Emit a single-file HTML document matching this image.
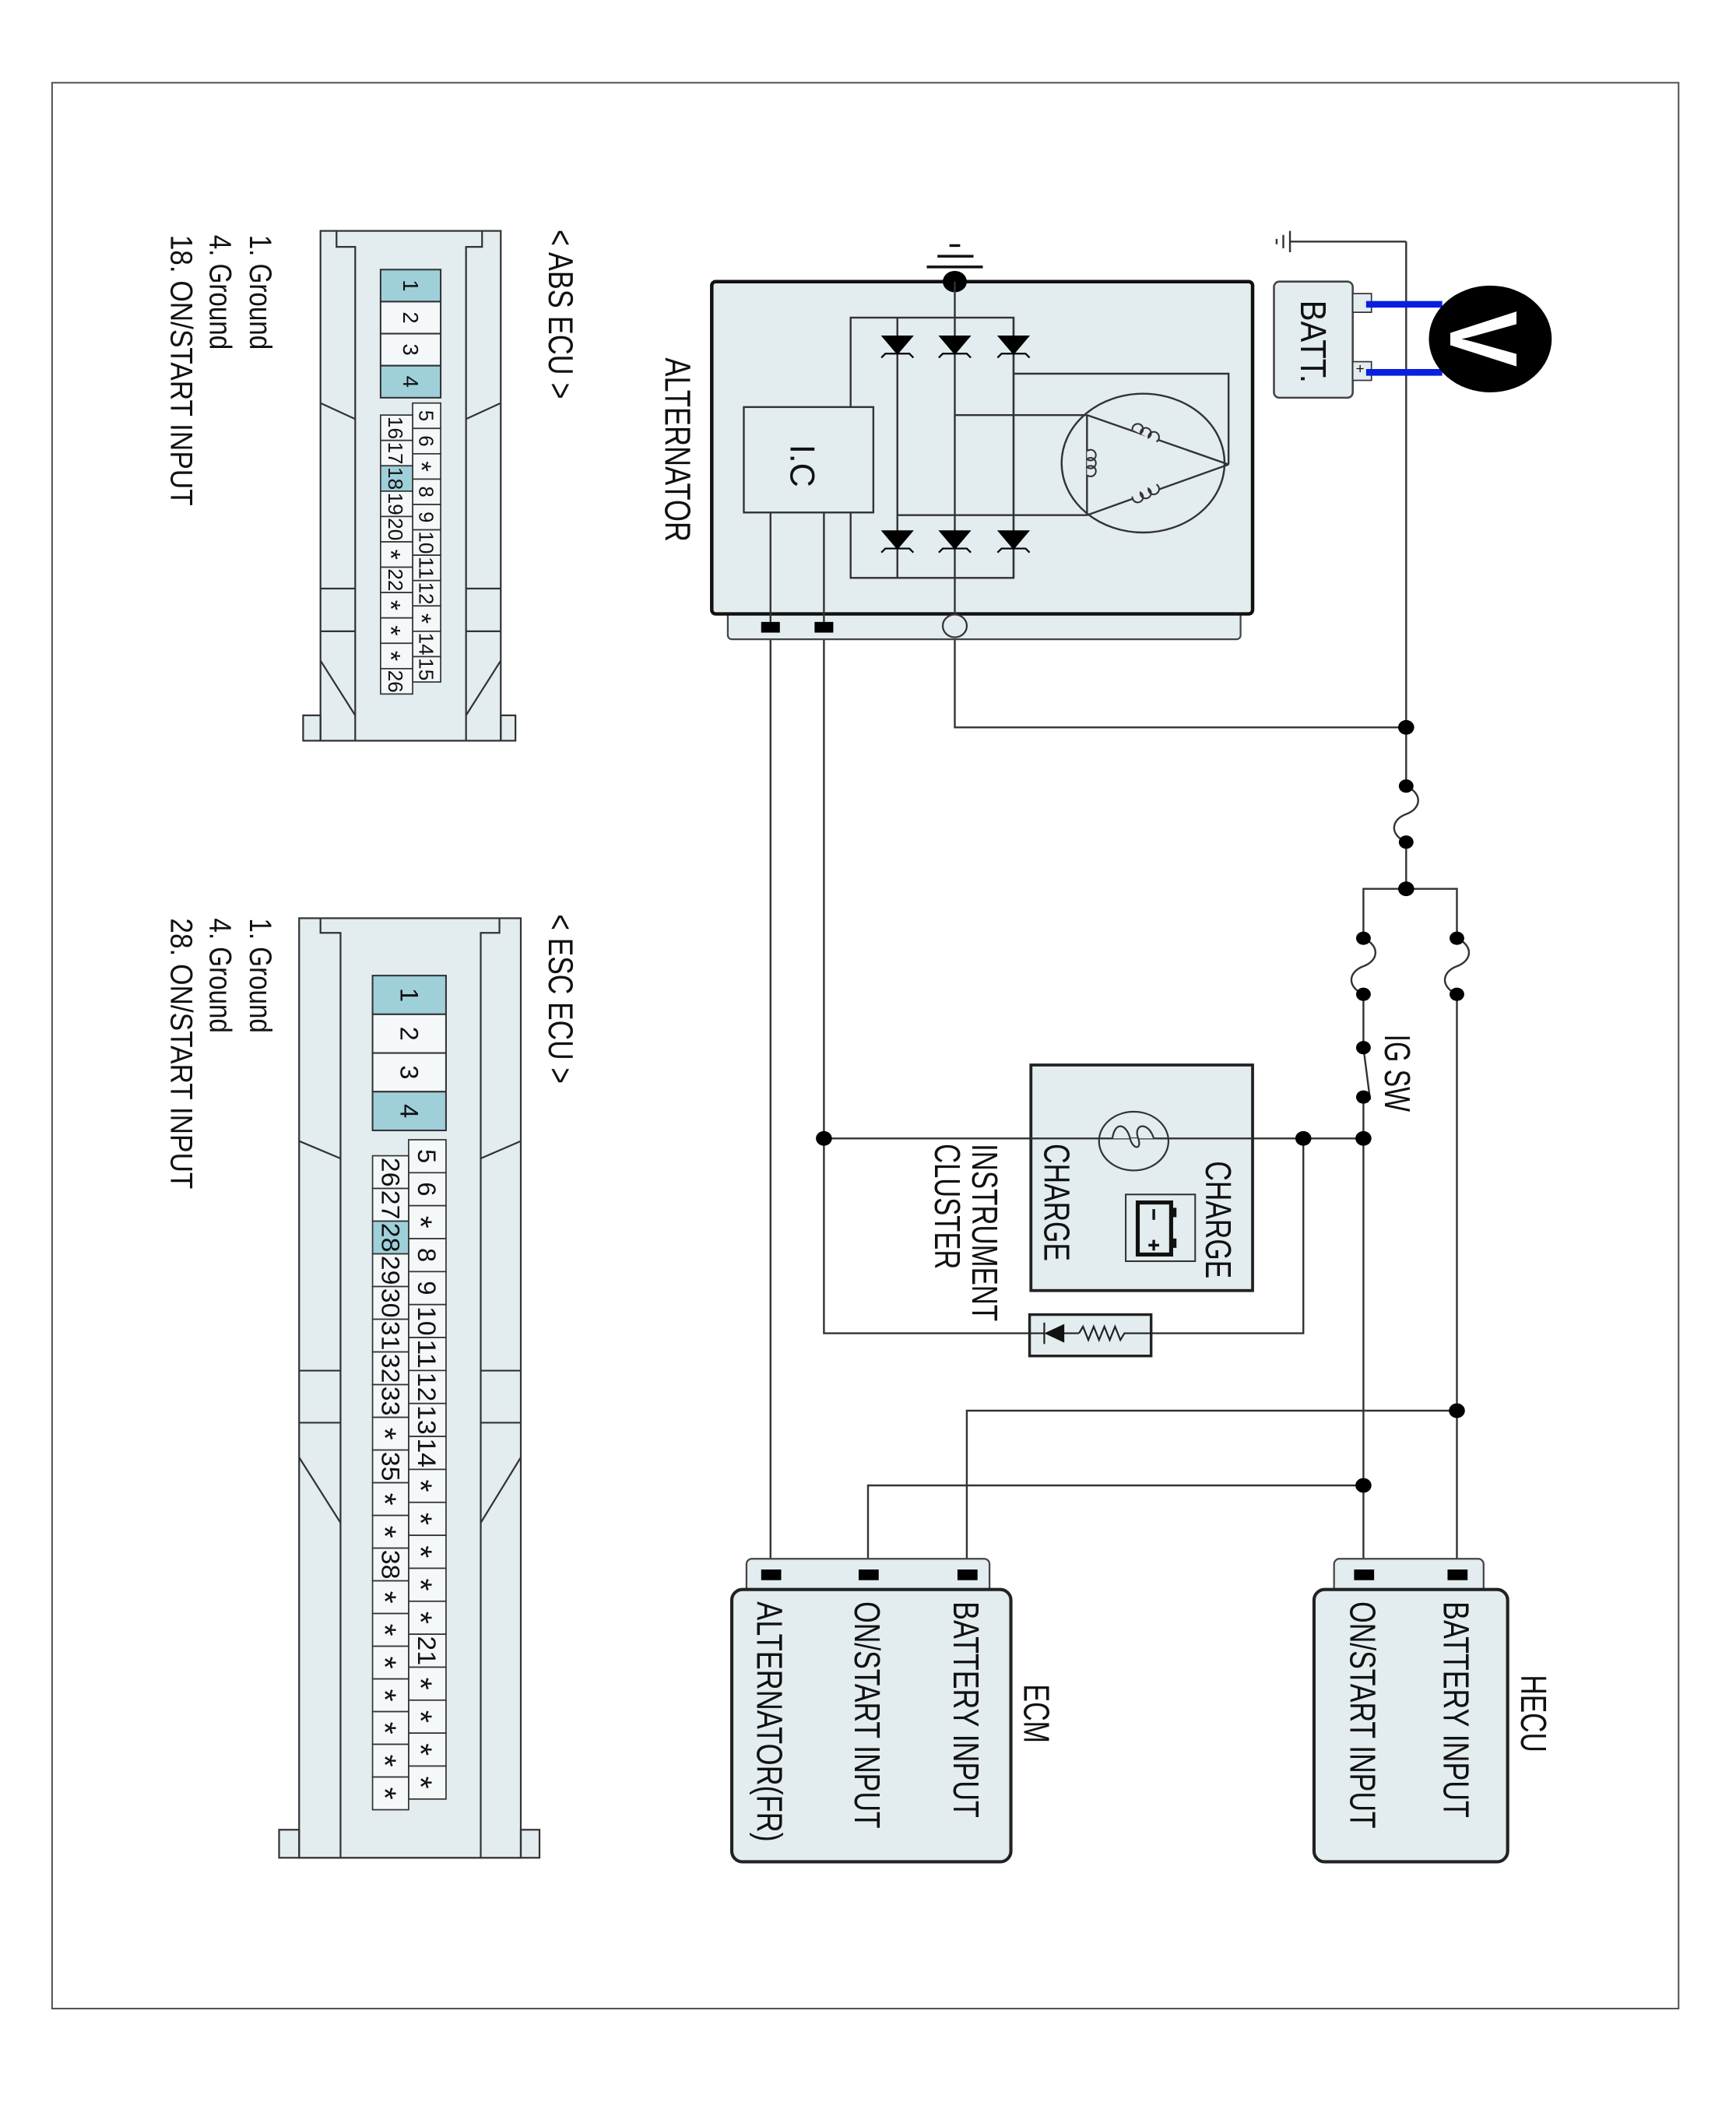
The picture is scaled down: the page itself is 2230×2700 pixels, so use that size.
<!DOCTYPE html>
<html><head><meta charset="utf-8">
<style>
html,body{margin:0;padding:0;background:#fff;}
svg{display:block;}
text{font-family:"Liberation Sans",sans-serif;fill:#111;}
</style></head>
<body>
<svg width="2230" height="2700" viewBox="0 0 1300 1575" preserveAspectRatio="none" xmlns="http://www.w3.org/2000/svg">
<rect x="0" y="0" width="1300" height="1575" fill="#fff"/>
<rect x="39" y="62" width="1218" height="1443" fill="none" stroke="#555" stroke-width="1.2"/>

<g stroke="#333" stroke-width="1.4" fill="none">
<!-- ground near battery -->
<line x1="966" y1="181" x2="1053" y2="181"/>
<line x1="966" y1="173" x2="966" y2="189"/>
<line x1="961" y1="176" x2="961" y2="186"/>
<line x1="956" y1="179" x2="956" y2="183"/>
<line x1="1053" y1="181" x2="1053" y2="589"/>
<!-- alt B wire -->
<polyline points="715,477 715,545 1053,545"/>
<!-- main fuse -->
<path d="M1053,589 C1066,595 1064,606 1053,610 C1042,614 1040,625 1053,631"/>
<line x1="1053" y1="631" x2="1053" y2="666"/>
<polyline points="1021,703 1021,666 1091,666 1091,703"/>
<path d="M1021,703 C1034,709 1032,720 1021,724 C1010,728 1008,739 1021,745"/>
<path d="M1091,703 C1104,709 1102,720 1091,724 C1080,728 1078,739 1091,745"/>
<line x1="1021" y1="745" x2="1021" y2="785"/>
<line x1="1021" y1="785" x2="1026" y2="824"/>
<line x1="1021" y1="822" x2="1021" y2="1175"/>
<line x1="1091" y1="745" x2="1091" y2="1175"/>
<!-- charge lamp line -->
<line x1="617" y1="853" x2="1021" y2="853"/>
<polyline points="976,853 976,999 862,999"/>
<polyline points="771,999 617,999 617,470"/>
<line x1="577" y1="470" x2="577" y2="1175"/>
<polyline points="1091,1057 724,1057 724,1175"/>
<polyline points="1021,1113 650,1113 650,1175"/>
</g>

<!-- junction dots -->
<g fill="#000">
<ellipse cx="1053" cy="545" rx="6" ry="5.5"/>
<ellipse cx="1053" cy="589" rx="5.5" ry="5"/>
<ellipse cx="1053" cy="631" rx="5.5" ry="5"/>
<ellipse cx="1053" cy="666" rx="6" ry="5.5"/>
<ellipse cx="1021" cy="703" rx="5.5" ry="5"/>
<ellipse cx="1021" cy="745" rx="5.5" ry="5"/>
<ellipse cx="1091" cy="703" rx="5.5" ry="5"/>
<ellipse cx="1091" cy="745" rx="5.5" ry="5"/>
<ellipse cx="1021" cy="785" rx="5.5" ry="5"/>
<ellipse cx="1021" cy="822" rx="5.5" ry="5"/>
<ellipse cx="1021" cy="853" rx="6" ry="5.5"/>
<ellipse cx="976" cy="853" rx="6" ry="5.5"/>
<ellipse cx="617" cy="853" rx="6" ry="5.5"/>
<ellipse cx="1091" cy="1057" rx="6" ry="5.5"/>
<ellipse cx="1021" cy="1113" rx="6" ry="5.5"/>
</g>

<!-- battery & voltmeter -->
<rect x="954" y="211" width="59" height="87" rx="4" fill="#e3ecef" stroke="#444" stroke-width="1.5"/>
<text transform="translate(974,225) rotate(90)" font-size="27" textLength="62" lengthAdjust="spacingAndGlyphs">BATT.</text>
<rect x="1013" y="220" width="14" height="14" fill="#e3ecef" stroke="#333" stroke-width="1"/>
<rect x="1013" y="271" width="14" height="14" fill="#e3ecef" stroke="#333" stroke-width="1"/>
<text transform="translate(1015,273) rotate(90)" font-size="11">+</text>
<line x1="1023" y1="228" x2="1080" y2="228" stroke="#0a1ee0" stroke-width="5"/>
<line x1="1023" y1="279" x2="1080" y2="279" stroke="#0a1ee0" stroke-width="5"/>
<ellipse cx="1116" cy="254" rx="46" ry="40" fill="#000"/>
<text transform="translate(1086,233) rotate(90)" font-size="72" font-weight="bold" style="fill:#fff" textLength="42" lengthAdjust="spacingAndGlyphs">V</text>

<!-- alternator -->
<rect x="545" y="458" width="384" height="21" rx="3" fill="#e3ecef" stroke="#444" stroke-width="1.3"/>
<rect x="533" y="211" width="405" height="249" rx="3" fill="#e3ecef" stroke="#111" stroke-width="2.6"/>
<g stroke="#111" stroke-width="2">
<line x1="711" y1="184" x2="719" y2="184"/>
<line x1="702" y1="192" x2="729" y2="192"/>
<line x1="694" y1="200" x2="736" y2="200"/>
</g>
<ellipse cx="715" cy="211" rx="9" ry="8" fill="#000"/>
<g stroke="#333" stroke-width="1.4" fill="none">
<line x1="715" y1="211" x2="715" y2="460"/>
<rect x="637" y="238" width="122" height="195"/>
<line x1="672" y1="238" x2="672" y2="433"/>
<line x1="759" y1="238" x2="759" y2="433"/>
<line x1="715" y1="311" x2="814" y2="311"/>
<line x1="672" y1="386" x2="814" y2="386"/>
<polyline points="759,280 920,280 920,348"/>
<ellipse cx="856" cy="347" rx="61" ry="52"/>
<line x1="814" y1="311" x2="814" y2="386"/>
<line x1="814" y1="311" x2="920" y2="348"/>
<line x1="814" y1="386" x2="920" y2="348"/>
<line x1="577" y1="384" x2="577" y2="470"/>
<line x1="617" y1="384" x2="617" y2="470"/>
</g>
<!-- coils -->
<g fill="#e3ecef" stroke="#333" stroke-width="1.2">
<path d="M848,322 a4,4 0 1,1 6,3 a4,4 0 1,1 6,3 a4,4 0 1,1 6,3"/>
<path d="M848,372 a4,4 0 1,0 6,-3 a4,4 0 1,0 6,-3 a4,4 0 1,0 6,-3"/>
<path d="M814,338 a4,4 0 1,1 0,6 a4,4 0 1,1 0,6 a4,4 0 1,1 0,6"/>
</g>
<!-- diodes -->
<g fill="#000" stroke="#000" stroke-width="1.2">
<polygon points="661,252 683,252 672,265"/><polygon points="704,252 726,252 715,265"/><polygon points="748,252 770,252 759,265"/>
<polygon points="661,398 683,398 672,411"/><polygon points="704,398 726,398 715,411"/><polygon points="748,398 770,398 759,411"/>
</g>
<g stroke="#000" stroke-width="1.3" fill="none">
<path d="M660,268 l3,-3 h18 l3,3"/><path d="M703,268 l3,-3 h18 l3,3"/><path d="M747,268 l3,-3 h18 l3,3"/>
<path d="M660,414 l3,-3 h18 l3,3"/><path d="M703,414 l3,-3 h18 l3,3"/><path d="M747,414 l3,-3 h18 l3,3"/>
</g>
<rect x="557" y="305" width="97" height="79" fill="#e3ecef" stroke="#333" stroke-width="1.4"/>
<text transform="translate(592,333) rotate(90)" font-size="26" textLength="32" lengthAdjust="spacingAndGlyphs">I.C</text>
<rect x="570" y="466" width="14" height="8" fill="#000"/>
<rect x="610" y="466" width="14" height="8" fill="#000"/>
<ellipse cx="715" cy="469" rx="9" ry="8.5" fill="#e3ecef" stroke="#333" stroke-width="1.3"/>
<text transform="translate(498,268) rotate(90)" font-size="27" textLength="138" lengthAdjust="spacingAndGlyphs">ALTERNATOR</text>

<!-- instrument cluster -->
<rect x="772" y="798" width="166" height="169" fill="#e3ecef" stroke="#222" stroke-width="2.2"/>
<line x1="772" y1="853" x2="938" y2="853" stroke="#333" stroke-width="1.4"/>
<ellipse cx="849" cy="855" rx="26" ry="22" fill="none" stroke="#333" stroke-width="1.3"/>
<path d="M833,853 C835,840 843,842 846,852 C848,862 856,862 852,852 C849,842 860,840 864,853" fill="#e3ecef" stroke="#333" stroke-width="1.3"/>
<rect x="843" y="895" width="52" height="50" fill="#e3ecef" stroke="#333" stroke-width="1.2"/>
<rect x="852" y="901" width="25" height="39" fill="none" stroke="#111" stroke-width="3"/>
<rect x="877" y="905" width="4" height="7" fill="#111"/><rect x="877" y="928" width="4" height="7" fill="#111"/>
<line x1="864" y1="906" x2="864" y2="914" stroke="#111" stroke-width="2"/>
<line x1="864" y1="929" x2="864" y2="937" stroke="#111" stroke-width="2"/><line x1="860" y1="933" x2="868" y2="933" stroke="#111" stroke-width="2"/>
<text transform="translate(903,870) rotate(90)" font-size="27" textLength="88" lengthAdjust="spacingAndGlyphs">CHARGE</text>
<text transform="translate(782,857) rotate(90)" font-size="27" textLength="88" lengthAdjust="spacingAndGlyphs">CHARGE</text>
<text transform="translate(728,857) rotate(90)" font-size="27" textLength="133" lengthAdjust="spacingAndGlyphs">INSTRUMENT</text>
<text transform="translate(700,857) rotate(90)" font-size="27" textLength="94" lengthAdjust="spacingAndGlyphs">CLUSTER</text>
<!-- resistor/diode -->
<rect x="771" y="985" width="91" height="31" fill="#e3ecef" stroke="#222" stroke-width="2"/>
<g stroke="#222" stroke-width="1.3" fill="none">
<line x1="771" y1="999" x2="782" y2="999"/>
<line x1="782" y1="991" x2="782" y2="1007"/>
<line x1="796" y1="999" x2="808" y2="999"/>
<polyline points="808,999 811,994 815,1004 819,994 823,1004 827,994 831,1004 835,994 839,1004 842,999 862,999"/>
</g>
<polygon points="782,999 797,992 797,1006" fill="#111"/>
<text transform="translate(1037,775) rotate(90)" font-size="27" textLength="58" lengthAdjust="spacingAndGlyphs">IG SW</text>

<!-- HECU -->
<path d="M999,1191 V1172 a4,4 0 0 1 4,-4 H1107 a4,4 0 0 1 4,4 V1191" fill="#e3ecef" stroke="#444" stroke-width="1.3"/>
<rect x="984" y="1191" width="145" height="204" rx="8" fill="#e3ecef" stroke="#222" stroke-width="2.4"/>
<rect x="1014" y="1176" width="15" height="8" fill="#000"/>
<rect x="1084" y="1176" width="15" height="8" fill="#000"/>
<text transform="translate(1081,1200) rotate(90)" font-size="27" textLength="162" lengthAdjust="spacingAndGlyphs">BATTERY INPUT</text>
<text transform="translate(1011,1200) rotate(90)" font-size="27" textLength="170" lengthAdjust="spacingAndGlyphs">ON/START INPUT</text>
<text transform="translate(1139,1255) rotate(90)" font-size="27" textLength="58" lengthAdjust="spacingAndGlyphs">HECU</text>

<!-- ECM -->
<path d="M559,1191 V1172 a4,4 0 0 1 4,-4 H737 a4,4 0 0 1 4,4 V1191" fill="#e3ecef" stroke="#444" stroke-width="1.3"/>
<rect x="548" y="1191" width="209" height="204" rx="8" fill="#e3ecef" stroke="#222" stroke-width="2.4"/>
<rect x="570" y="1176" width="15" height="8" fill="#000"/>
<rect x="643" y="1176" width="15" height="8" fill="#000"/>
<rect x="717" y="1176" width="15" height="8" fill="#000"/>
<text transform="translate(714,1200) rotate(90)" font-size="27" textLength="162" lengthAdjust="spacingAndGlyphs">BATTERY INPUT</text>
<text transform="translate(640,1200) rotate(90)" font-size="27" textLength="170" lengthAdjust="spacingAndGlyphs">ON/START INPUT</text>
<text transform="translate(567,1200) rotate(90)" font-size="27" textLength="180" lengthAdjust="spacingAndGlyphs">ALTERNATOR(FR)</text>
<text transform="translate(767,1262) rotate(90)" font-size="27" textLength="44" lengthAdjust="spacingAndGlyphs">ECM</text>

<!-- ABS ECU connector -->
<g stroke="#333" stroke-width="1.3">
<rect x="227" y="536" width="159" height="19" fill="#e3ecef"/>
<rect x="240" y="173" width="135" height="382" fill="#e3ecef"/>
<polyline points="252,173 252,185 266,185 266,555" fill="none"/>
<polyline points="361,173 361,185 349,185 349,555" fill="none"/>
<line x1="240" y1="302" x2="266" y2="314"/><line x1="375" y1="302" x2="349" y2="314"/>
<line x1="240" y1="441" x2="266" y2="441"/><line x1="375" y1="441" x2="349" y2="441"/>
<line x1="240" y1="473" x2="266" y2="473"/><line x1="375" y1="473" x2="349" y2="473"/>
<line x1="240" y1="495" x2="266" y2="536"/><line x1="375" y1="495" x2="349" y2="536"/>
<line x1="240" y1="536" x2="240" y2="555"/><line x1="375" y1="536" x2="375" y2="555"/>
</g>
<g stroke="#333" stroke-width="1.2">
<rect x="285" y="202" width="45" height="24" fill="#9fd0da"/>
<rect x="285" y="226" width="45" height="24" fill="#f4f8f9"/>
<rect x="285" y="250" width="45" height="24" fill="#f4f8f9"/>
<rect x="285" y="274" width="45" height="24" fill="#9fd0da"/>
</g>
<g font-size="16">
<text transform="translate(302,214) rotate(90)" text-anchor="middle">1</text>
<text transform="translate(302,238) rotate(90)" text-anchor="middle">2</text>
<text transform="translate(302,262) rotate(90)" text-anchor="middle">3</text>
<text transform="translate(302,286) rotate(90)" text-anchor="middle">4</text>
</g>
<g stroke="#333" stroke-width="1" fill="#f4f8f9">
<rect x="309" y="302" width="21" height="19"/><rect x="309" y="321" width="21" height="19"/><rect x="309" y="340" width="21" height="19"/><rect x="309" y="359" width="21" height="19"/><rect x="309" y="378" width="21" height="19"/><rect x="309" y="397" width="21" height="19"/><rect x="309" y="416" width="21" height="19"/><rect x="309" y="435" width="21" height="19"/><rect x="309" y="454" width="21" height="19"/><rect x="309" y="473" width="21" height="19"/><rect x="309" y="492" width="21" height="19"/>
<rect x="285" y="311" width="24" height="19"/><rect x="285" y="330" width="24" height="19"/><rect x="285" y="349" width="24" height="19" fill="#9fd0da"/><rect x="285" y="368" width="24" height="19"/><rect x="285" y="387" width="24" height="19"/><rect x="285" y="406" width="24" height="19"/><rect x="285" y="425" width="24" height="19"/><rect x="285" y="444" width="24" height="19"/><rect x="285" y="463" width="24" height="19"/><rect x="285" y="482" width="24" height="19"/><rect x="285" y="501" width="24" height="19"/>
</g>
<g font-size="15" text-anchor="middle">
<text transform="translate(314,311.5) rotate(90)">5</text>
<text transform="translate(314,330.5) rotate(90)">6</text>
<text transform="translate(309,349.5) rotate(90)" font-size="20">*</text>
<text transform="translate(314,368.5) rotate(90)">8</text>
<text transform="translate(314,387.5) rotate(90)">9</text>
<text transform="translate(314,406.5) rotate(90)" textLength="17" lengthAdjust="spacingAndGlyphs">10</text>
<text transform="translate(314,425.5) rotate(90)" textLength="17" lengthAdjust="spacingAndGlyphs">11</text>
<text transform="translate(314,444.5) rotate(90)" textLength="17" lengthAdjust="spacingAndGlyphs">12</text>
<text transform="translate(309,463.5) rotate(90)" font-size="20">*</text>
<text transform="translate(314,482.5) rotate(90)" textLength="17" lengthAdjust="spacingAndGlyphs">14</text>
<text transform="translate(314,501.5) rotate(90)" textLength="17" lengthAdjust="spacingAndGlyphs">15</text>
<text transform="translate(291,320.5) rotate(90)" textLength="17" lengthAdjust="spacingAndGlyphs">16</text>
<text transform="translate(291,339.5) rotate(90)" textLength="17" lengthAdjust="spacingAndGlyphs">17</text>
<text transform="translate(291,358.5) rotate(90)" textLength="17" lengthAdjust="spacingAndGlyphs">18</text>
<text transform="translate(291,377.5) rotate(90)" textLength="17" lengthAdjust="spacingAndGlyphs">19</text>
<text transform="translate(291,396.5) rotate(90)" textLength="17" lengthAdjust="spacingAndGlyphs">20</text>
<text transform="translate(286,415.5) rotate(90)" font-size="20">*</text>
<text transform="translate(291,434.5) rotate(90)" textLength="17" lengthAdjust="spacingAndGlyphs">22</text>
<text transform="translate(286,453.5) rotate(90)" font-size="20">*</text>
<text transform="translate(286,472.5) rotate(90)" font-size="20">*</text>
<text transform="translate(286,491.5) rotate(90)" font-size="20">*</text>
<text transform="translate(291,510.5) rotate(90)" textLength="17" lengthAdjust="spacingAndGlyphs">26</text>
</g>
<text transform="translate(411,172) rotate(90)" font-size="26" textLength="127" lengthAdjust="spacingAndGlyphs">&lt; ABS ECU &gt;</text>
<text transform="translate(187,176) rotate(90)" font-size="23" textLength="86" lengthAdjust="spacingAndGlyphs">1. Ground</text>
<text transform="translate(157,176) rotate(90)" font-size="23" textLength="86" lengthAdjust="spacingAndGlyphs">4. Ground</text>
<text transform="translate(128,176) rotate(90)" font-size="23" textLength="203" lengthAdjust="spacingAndGlyphs">18. ON/START INPUT</text>

<!-- ESC ECU connector -->
<g stroke="#333" stroke-width="1.3">
<rect x="209" y="1371" width="195" height="21" fill="#e3ecef"/>
<rect x="224" y="688" width="166" height="704" fill="#e3ecef"/>
<polyline points="240,688 240,699 255,699 255,1392" fill="none"/>
<polyline points="374,688 374,699 360,699 360,1392" fill="none"/>
<line x1="224" y1="855" x2="255" y2="868"/><line x1="390" y1="855" x2="360" y2="868"/>
<line x1="224" y1="1027" x2="255" y2="1027"/><line x1="390" y1="1027" x2="360" y2="1027"/>
<line x1="224" y1="1066" x2="255" y2="1066"/><line x1="390" y1="1066" x2="360" y2="1066"/>
<line x1="224" y1="1092" x2="255" y2="1141"/><line x1="390" y1="1092" x2="360" y2="1141"/>
<line x1="224" y1="1371" x2="224" y2="1392"/><line x1="390" y1="1371" x2="390" y2="1392"/>
</g>
<g stroke="#333" stroke-width="1.2">
<rect x="279" y="731" width="55" height="29" fill="#9fd0da"/>
<rect x="279" y="760" width="55" height="29" fill="#f4f8f9"/>
<rect x="279" y="789" width="55" height="29" fill="#f4f8f9"/>
<rect x="279" y="818" width="55" height="29" fill="#9fd0da"/>
</g>
<g font-size="19">
<text transform="translate(300,745.5) rotate(90)" text-anchor="middle">1</text>
<text transform="translate(300,774.5) rotate(90)" text-anchor="middle">2</text>
<text transform="translate(300,803.5) rotate(90)" text-anchor="middle">3</text>
<text transform="translate(300,832.5) rotate(90)" text-anchor="middle">4</text>
</g>
<g stroke="#333" stroke-width="1" fill="#f4f8f9">
<rect x="306" y="854" width="28" height="24.7"/><rect x="306" y="878.7" width="28" height="24.7"/><rect x="306" y="903.4" width="28" height="24.7"/><rect x="306" y="928.1" width="28" height="24.7"/><rect x="306" y="952.8" width="28" height="24.7"/><rect x="306" y="977.5" width="28" height="24.7"/><rect x="306" y="1002.2" width="28" height="24.7"/><rect x="306" y="1026.9" width="28" height="24.7"/><rect x="306" y="1051.6" width="28" height="24.7"/><rect x="306" y="1076.3" width="28" height="24.7"/><rect x="306" y="1101" width="28" height="24.7"/><rect x="306" y="1125.7" width="28" height="24.7"/><rect x="306" y="1150.4" width="28" height="24.7"/><rect x="306" y="1175.1" width="28" height="24.7"/><rect x="306" y="1199.8" width="28" height="24.7"/><rect x="306" y="1224.5" width="28" height="24.7"/><rect x="306" y="1249.2" width="28" height="24.7"/><rect x="306" y="1273.9" width="28" height="24.7"/><rect x="306" y="1298.6" width="28" height="24.7"/><rect x="306" y="1323.3" width="28" height="24.7"/>
<rect x="279" y="866" width="27" height="24.5"/><rect x="279" y="890.5" width="27" height="24.5"/><rect x="279" y="915" width="27" height="24.5" fill="#9fd0da"/><rect x="279" y="939.5" width="27" height="24.5"/><rect x="279" y="964" width="27" height="24.5"/><rect x="279" y="988.5" width="27" height="24.5"/><rect x="279" y="1013" width="27" height="24.5"/><rect x="279" y="1037.5" width="27" height="24.5"/><rect x="279" y="1062" width="27" height="24.5"/><rect x="279" y="1086.5" width="27" height="24.5"/><rect x="279" y="1111" width="27" height="24.5"/><rect x="279" y="1135.5" width="27" height="24.5"/><rect x="279" y="1160" width="27" height="24.5"/><rect x="279" y="1184.5" width="27" height="24.5"/><rect x="279" y="1209" width="27" height="24.5"/><rect x="279" y="1233.5" width="27" height="24.5"/><rect x="279" y="1258" width="27" height="24.5"/><rect x="279" y="1282.5" width="27" height="24.5"/><rect x="279" y="1307" width="27" height="24.5"/><rect x="279" y="1331.5" width="27" height="24.5"/>
</g>
<g font-size="19" text-anchor="middle">
<text transform="translate(313,866.3) rotate(90)">5</text>
<text transform="translate(313,891) rotate(90)">6</text>
<text transform="translate(307,915.7) rotate(90)" font-size="24">*</text>
<text transform="translate(313,940.4) rotate(90)">8</text>
<text transform="translate(313,965.1) rotate(90)">9</text>
<text transform="translate(313,989.8) rotate(90)" textLength="22" lengthAdjust="spacingAndGlyphs">10</text>
<text transform="translate(313,1014.5) rotate(90)" textLength="22" lengthAdjust="spacingAndGlyphs">11</text>
<text transform="translate(313,1039.2) rotate(90)" textLength="22" lengthAdjust="spacingAndGlyphs">12</text>
<text transform="translate(313,1063.9) rotate(90)" textLength="22" lengthAdjust="spacingAndGlyphs">13</text>
<text transform="translate(313,1088.6) rotate(90)" textLength="22" lengthAdjust="spacingAndGlyphs">14</text>
<text transform="translate(307,1113.3) rotate(90)" font-size="24">*</text>
<text transform="translate(307,1138) rotate(90)" font-size="24">*</text>
<text transform="translate(307,1162.7) rotate(90)" font-size="24">*</text>
<text transform="translate(307,1187.4) rotate(90)" font-size="24">*</text>
<text transform="translate(307,1212.1) rotate(90)" font-size="24">*</text>
<text transform="translate(313,1236.8) rotate(90)" textLength="22" lengthAdjust="spacingAndGlyphs">21</text>
<text transform="translate(307,1261.5) rotate(90)" font-size="24">*</text>
<text transform="translate(307,1286.2) rotate(90)" font-size="24">*</text>
<text transform="translate(307,1310.9) rotate(90)" font-size="24">*</text>
<text transform="translate(307,1335.6) rotate(90)" font-size="24">*</text>
<text transform="translate(286,878.3) rotate(90)" textLength="22" lengthAdjust="spacingAndGlyphs">26</text>
<text transform="translate(286,902.8) rotate(90)" textLength="22" lengthAdjust="spacingAndGlyphs">27</text>
<text transform="translate(286,927.3) rotate(90)" textLength="22" lengthAdjust="spacingAndGlyphs">28</text>
<text transform="translate(286,951.8) rotate(90)" textLength="22" lengthAdjust="spacingAndGlyphs">29</text>
<text transform="translate(286,976.3) rotate(90)" textLength="22" lengthAdjust="spacingAndGlyphs">30</text>
<text transform="translate(286,1000.8) rotate(90)" textLength="22" lengthAdjust="spacingAndGlyphs">31</text>
<text transform="translate(286,1025.3) rotate(90)" textLength="22" lengthAdjust="spacingAndGlyphs">32</text>
<text transform="translate(286,1049.8) rotate(90)" textLength="22" lengthAdjust="spacingAndGlyphs">33</text>
<text transform="translate(280,1074.3) rotate(90)" font-size="24">*</text>
<text transform="translate(286,1098.8) rotate(90)" textLength="22" lengthAdjust="spacingAndGlyphs">35</text>
<text transform="translate(280,1123.3) rotate(90)" font-size="24">*</text>
<text transform="translate(280,1147.8) rotate(90)" font-size="24">*</text>
<text transform="translate(286,1172.3) rotate(90)" textLength="22" lengthAdjust="spacingAndGlyphs">38</text>
<text transform="translate(280,1196.8) rotate(90)" font-size="24">*</text>
<text transform="translate(280,1221.3) rotate(90)" font-size="24">*</text>
<text transform="translate(280,1245.8) rotate(90)" font-size="24">*</text>
<text transform="translate(280,1270.3) rotate(90)" font-size="24">*</text>
<text transform="translate(280,1294.8) rotate(90)" font-size="24">*</text>
<text transform="translate(280,1319.3) rotate(90)" font-size="24">*</text>
<text transform="translate(280,1343.8) rotate(90)" font-size="24">*</text>
</g>
<text transform="translate(411,685) rotate(90)" font-size="26" textLength="127" lengthAdjust="spacingAndGlyphs">&lt; ESC ECU &gt;</text>
<text transform="translate(187,688) rotate(90)" font-size="23" textLength="86" lengthAdjust="spacingAndGlyphs">1. Ground</text>
<text transform="translate(157,688) rotate(90)" font-size="23" textLength="86" lengthAdjust="spacingAndGlyphs">4. Ground</text>
<text transform="translate(128,688) rotate(90)" font-size="23" textLength="203" lengthAdjust="spacingAndGlyphs">28. ON/START INPUT</text>
</svg>
</body></html>
